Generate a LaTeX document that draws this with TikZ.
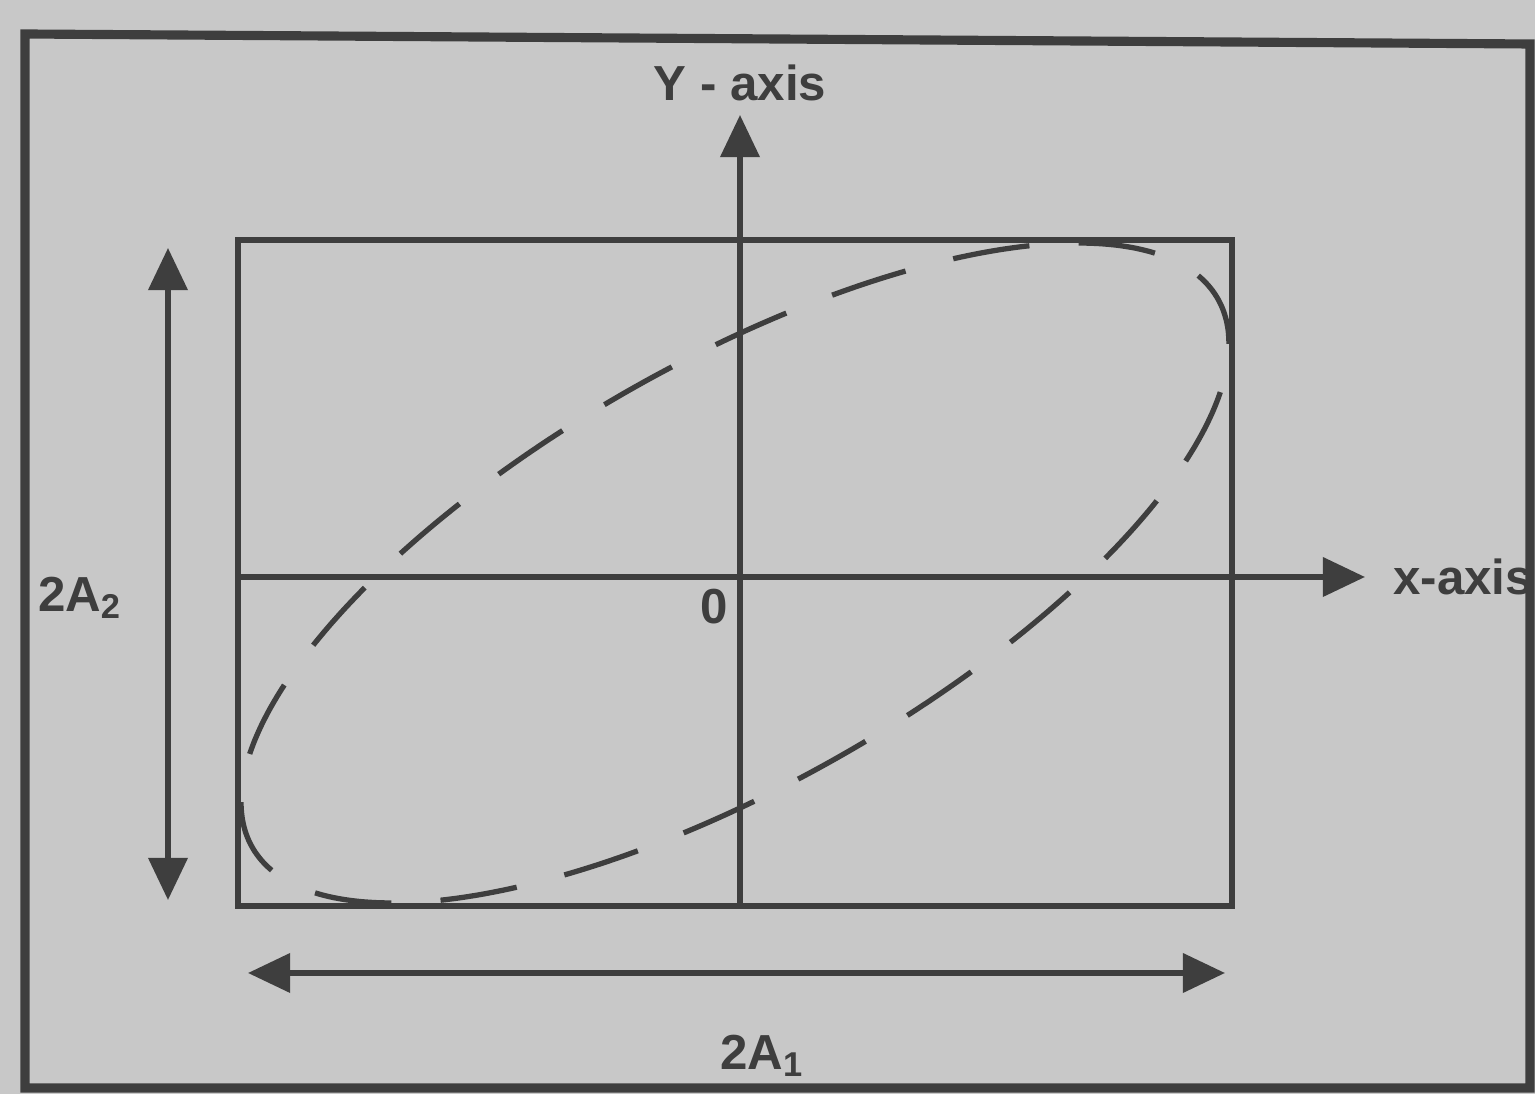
\documentclass[tikz,border=0pt]{standalone}
\usepackage{fontspec}
\setmainfont{Liberation Sans}
\usepackage{xcolor}
\usetikzlibrary{positioning,arrows.meta,calc}
\definecolor{paper}{RGB}{200,200,200}
\definecolor{ink}{RGB}{62,62,62}

\begin{document}
\begin{tikzpicture}[
  every node/.style={font=\fontsize{14}{16}\selectfont\bfseries, text=ink},
  frame/.style={draw=ink, line width=2.6pt},
  boxline/.style={draw=ink, line width=1.5pt},
  axis/.style={draw=ink, line width=1.5pt, -{Triangle[length=12pt, width=11pt]}},
  span/.style={draw=ink, line width=1.5pt, {Triangle[length=12pt, width=11pt]}-{Triangle[length=12pt, width=11pt]}},
  trace/.style={draw=ink, line width=1.5pt, dash pattern=on 22pt off 14pt}
]
  % page and outer frame
  \fill[paper] (0,0) rectangle (15.35,10.94);
  \useasboundingbox (0,0) rectangle (15.35,10.94);
  \draw[frame] (0.25,0.06) -- (0.25,10.6) -- (15.30,10.5) -- (15.30,0.06) -- cycle;

  % coordinates
  \coordinate (o) at (7.40,5.17);
  \coordinate (bl) at (2.38,1.88);
  \coordinate (tr) at (12.32,8.54);

  % bounding rectangle
  \draw[boxline] (bl) rectangle (tr);

  % axes
  \draw[axis] (7.40,1.86) -- (7.40,9.79) node[above=0pt] (ylab) {Y - axis};
  \draw[axis] (2.38,5.17) -- (13.65,5.17) node[right=4pt] (xlab) {x-axis};
  \node[below left=0pt and 0pt] (zero) at (o) {0};

  % dashed ellipse
  \draw[trace] plot[domain=0:360, samples=120, smooth]
    ({7.35+4.94*cos(\x)},{5.21+3.30*cos(\x-46)});

  % amplitude arrows
  \coordinate (vtop) at (1.68,8.46);
  \coordinate (vbot) at (1.68,1.94);
  \draw[span] (vtop) -- (vbot);
  \node (atwo) at (0.80,4.96) {2A\textsubscript{2}};

  \coordinate (hl) at (2.48,1.21);
  \coordinate (hr) at (12.25,1.21);
  \draw[span] (hl) -- (hr);
  \node (aone) at (7.62,0.38) {2A\textsubscript{1}};
\end{tikzpicture}
\end{document}
